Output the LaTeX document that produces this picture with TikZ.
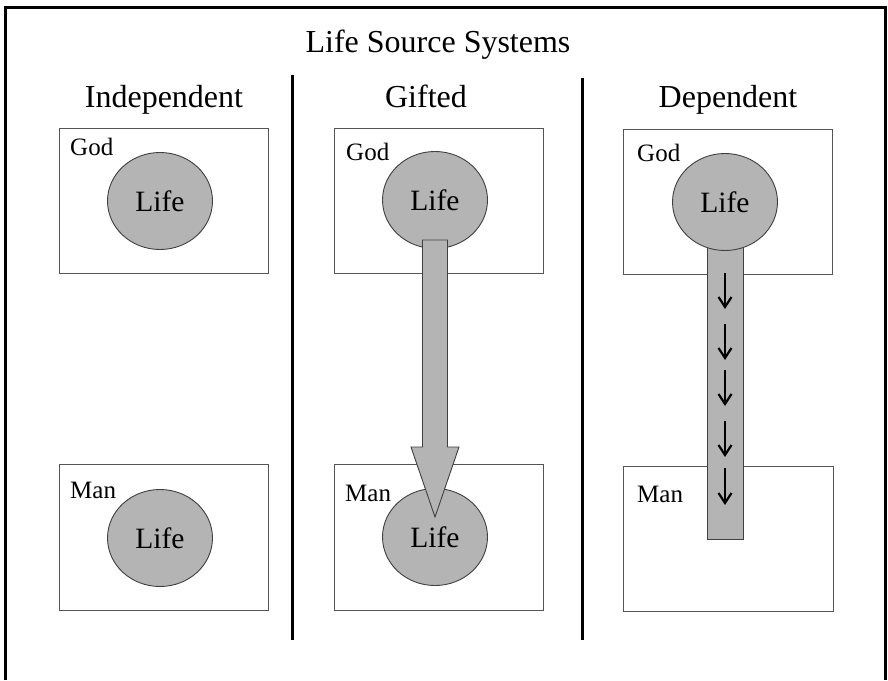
\documentclass[tikz,border=0pt]{standalone}
\usepackage{fontspec}
\setmainfont{Liberation Serif}
\usetikzlibrary{shapes.geometric,arrows.meta}
\definecolor{lifefill}{HTML}{B4B4B4}
\definecolor{edgegray}{HTML}{555555}
\definecolor{lifeedge}{HTML}{404040}
\tikzset{
  box/.style={draw=edgegray, line width=1pt, fill=white, rectangle, inner sep=0pt, minimum width=209pt, minimum height=145pt},
  life/.style={ellipse, draw=lifeedge, line width=0.9pt, fill=lifefill, inner sep=0pt, minimum width=105pt, minimum height=97pt, font=\fontsize{29.5}{32}\selectfont},
  heading/.style={font=\fontsize{32}{36}\selectfont, anchor=base, inner sep=0pt},
  tag/.style={font=\fontsize{25}{28}\selectfont, anchor=base west, inner sep=0pt},
  divider/.style={line width=3pt},
  flow/.style={fill=lifefill, draw=lifeedge, line width=0.9pt},
  drop/.style={line width=2.4pt, -{Straight Barb[length=10pt,width=13pt,line width=2.2pt]}}
}
\begin{document}
\begin{tikzpicture}[x=1pt,y=-1pt]
\useasboundingbox (0,0) rectangle (888,680);
\fill[white] (0,0) rectangle (888,680);
% outer frame (open at the bottom)
\draw[line width=3pt] (5.5,680) -- (5.5,7) -- (885,7) -- (885,680);
% headings
\node[heading] (title) at (438,52) {Life Source Systems};
\node[heading] (hind) at (164,107) {Independent};
\node[heading] (hgif) at (426,107) {Gifted};
\node[heading] (hdep) at (728,107) {Dependent};
% dividers
\coordinate (d1t) at (292.5,75);
\coordinate (d1b) at (292.5,640);
\coordinate (d2t) at (582.5,78);
\coordinate (d2b) at (582.5,640);
\draw[divider] (d1t) -- (d1b);
\draw[divider] (d2t) -- (d2b);

% ---------- Independent ----------
\node[box] (igod) at (163.5,200.5) {};
\node[tag] (igodl) at (70,155) {God};
\node[life] (ilife1) at (160,201) {Life};
\node[box, minimum height=146pt] (iman) at (163.5,537) {};
\node[tag] (imanl) at (70,498) {Man};
\node[life] (ilife2) at (160,538) {Life};

% ---------- Gifted ----------
\node[box] (ggod) at (438.5,200.5) {};
\node[tag] (ggodl) at (346,160) {God};
\node[life] (glife1) at (435,200) {Life};
\node[box, minimum height=146pt] (gman) at (438.5,537) {};
\node[tag] (gmanl) at (345,501) {Man};
\node[life] (glife2) at (435,537) {Life};
\coordinate (gtip) at (435,517);
\draw[flow] (422.5,240) -- (447.5,240) -- (447.5,447) -- (459,447) -- (gtip)
  -- (411,447) -- (422.5,447) -- cycle;

% ---------- Dependent ----------
\node[box] (dgod) at (728,201.5) {};
\node[tag] (dgodl) at (637,161) {God};
\node[box, minimum width=210pt] (dman) at (728,538.5) {};
\node[tag] (dmanl) at (637,502) {Man};
\draw[flow] (707,245) rectangle (743,539);
\node[life] (dlife) at (725,202) {Life};
\foreach \a/\b [count=\i] in {273/309,324/360,370/406,421/457,468/505}{
  \coordinate (s\i) at (725,\a);
  \coordinate (e\i) at (725,\b);
  \draw[drop] (s\i) -- (e\i);
}
\end{tikzpicture}
\end{document}
